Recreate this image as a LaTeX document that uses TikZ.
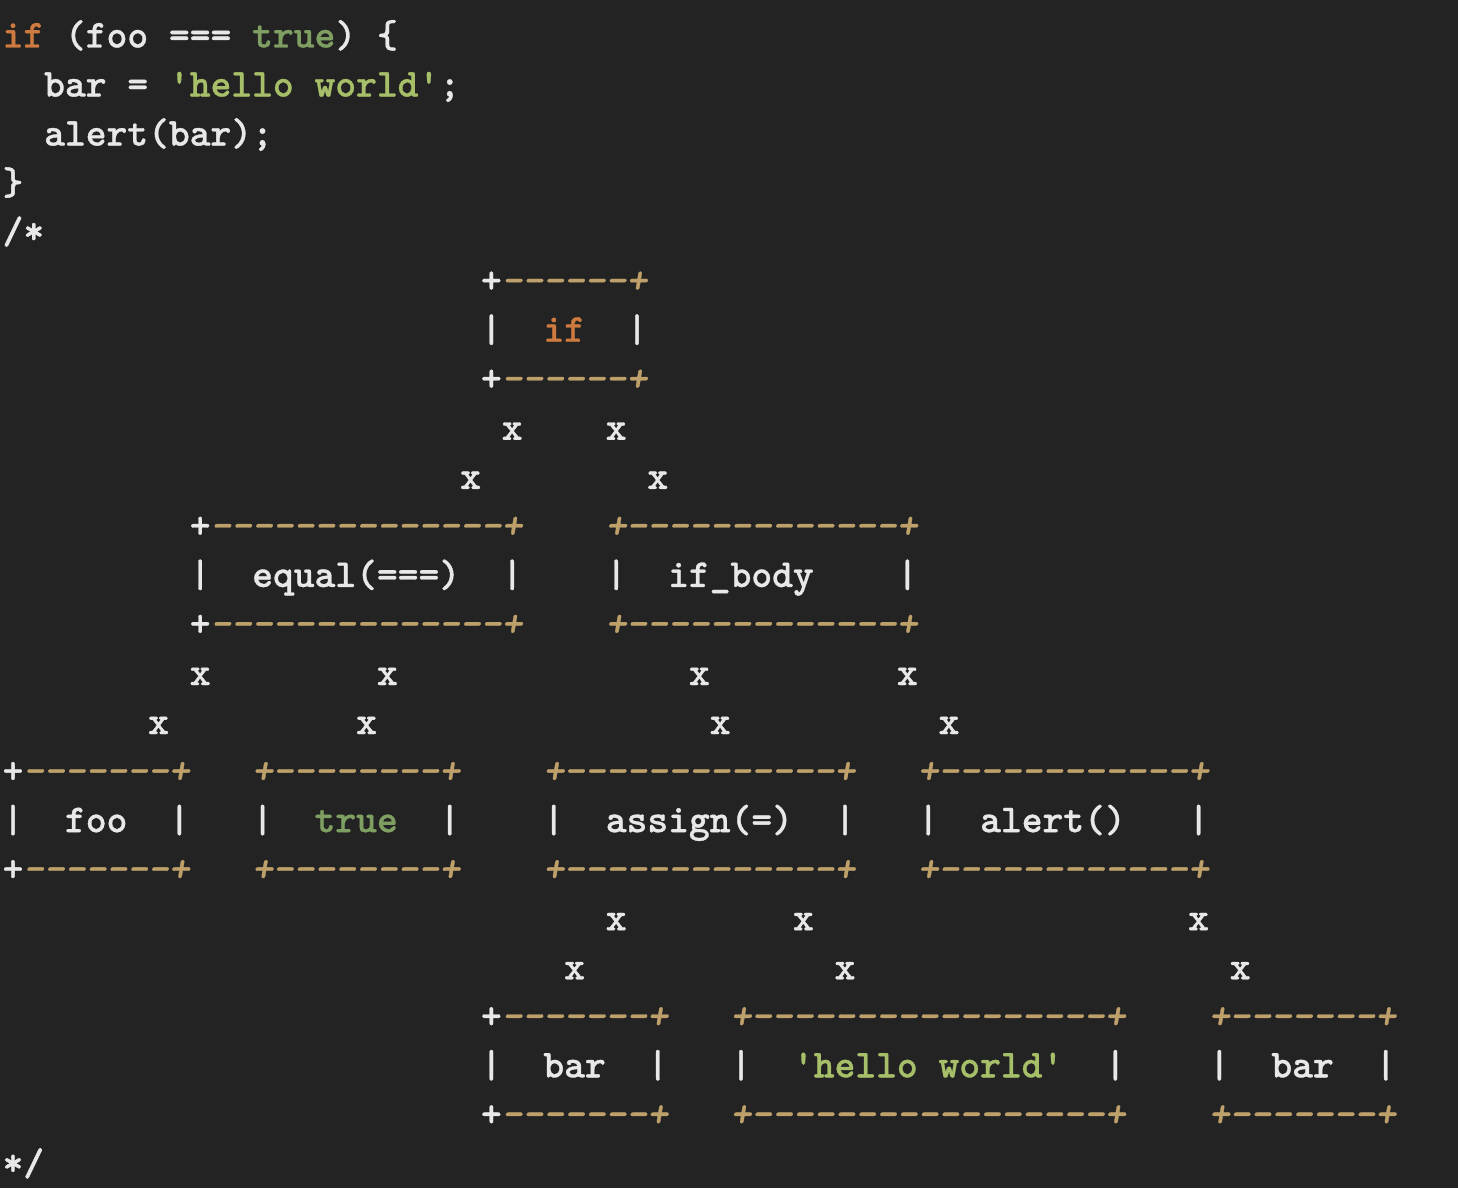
\documentclass[tikz,border=0pt]{standalone}
\usepackage{fontspec}
\newfontfamily\codefont{lmmonolt10-bold}[Extension=.otf,ItalicFont=lmmonolt10-boldoblique,BoldFont=lmmonolt10-bold,BoldItalicFont=lmmonolt10-boldoblique,Ligatures=TeXOff,FakeBold=0.8]
\newcommand\codesize{\codefont\fontsize{39.6pt}{49pt}\selectfont}
\definecolor{bgc}{HTML}{232323}
\definecolor{codewhite}{HTML}{E8E8E8}
\definecolor{codetan}{HTML}{BDA06A}
\definecolor{codeorange}{HTML}{CF7B3F}
\definecolor{codegreen}{HTML}{7F9F62}
\definecolor{codelime}{HTML}{A6BF68}
\begin{document}
\begin{tikzpicture}[x=20.8pt,y=-49.04pt,
  tok/.style={inner sep=0pt,outer sep=0pt,anchor=base west,font=\codesize},
  w/.style={tok,text=codewhite},
  tn/.style={tok,text=codetan,font=\codesize\itshape},
  kw/.style={tok,text=codeorange},
  grn/.style={tok,text=codegreen},
  lime/.style={tok,text=codelime}]
\fill[bgc] (0pt,0pt) rectangle (1458pt,-1188pt);
\useasboundingbox (0pt,0pt) rectangle (1458pt,-1188pt);
\begin{scope}[shift={(2.6pt,-47.5pt)}]
% code
\node[kw] (c0if) at (0,0) {if};
\node[w] (c0a) at (3,0) {(foo ===};
\node[grn] (c0true) at (12,0) {true};
\node[w] (c0b) at (16,0) {) \{};
\node[w] (c1a) at (2,1) {bar =};
\node[lime] (c1str) at (8,1) {'hello world'};
\node[w] (c1b) at (21,1) {;};
\node[w] (c2) at (2,2) {alert(bar);};
\node[w] (c3) at (0,3) {\}};
\node[w] (c4) at (0,4) {/*};
% if box
\node[w] (r5p) at (23,5) {+};
\node[tn] (r5t) at (24,5) {------+};
\node[w] (r6l) at (23,6) {|};
\node[kw] (ifnode) at (26,6) {if};
\node[w] (r6r) at (30,6) {|};
\node[w] (r7p) at (23,7) {+};
\node[tn] (r7t) at (24,7) {------+};
\node[w] (r8a) at (24,8) {x};
\node[w] (r8b) at (29,8) {x};
\node[w] (r9a) at (22,9) {x};
\node[w] (r9b) at (31,9) {x};
% equal / if_body
\node[w] (r10p) at (9,10) {+};
\node[tn] (r10t) at (10,10) {--------------+};
\node[tn] (r10u) at (29,10) {+-------------+};
\node[w] (r11a) at (9,11) {|};
\node[w] (equal) at (12,11) {equal(===)};
\node[w] (r11b) at (24,11) {|};
\node[w] (r11c) at (29,11) {|};
\node[w] (ifbody) at (32,11) {if\_body};
\node[w] (r11d) at (43,11) {|};
\node[w] (r12p) at (9,12) {+};
\node[tn] (r12t) at (10,12) {--------------+};
\node[tn] (r12u) at (29,12) {+-------------+};
\node[w] (r13a) at (9,13) {x};
\node[w] (r13b) at (18,13) {x};
\node[w] (r13c) at (33,13) {x};
\node[w] (r13d) at (43,13) {x};
\node[w] (r14a) at (7,14) {x};
\node[w] (r14b) at (17,14) {x};
\node[w] (r14c) at (34,14) {x};
\node[w] (r14d) at (45,14) {x};
% foo / true / assign / alert
\node[w] (r15p) at (0,15) {+};
\node[tn] (r15t) at (1,15) {-------+};
\node[tn] (r15u) at (12,15) {+--------+};
\node[tn] (r15v) at (26,15) {+-------------+};
\node[tn] (r15w) at (44,15) {+------------+};
\node[w] (r16a) at (0,16) {|};
\node[w] (foo) at (3,16) {foo};
\node[w] (r16b) at (8,16) {|};
\node[w] (r16c) at (12,16) {|};
\node[grn] (truenode) at (15,16) {true};
\node[w] (r16d) at (21,16) {|};
\node[w] (r16e) at (26,16) {|};
\node[w] (assign) at (29,16) {assign(=)};
\node[w] (r16f) at (40,16) {|};
\node[w] (r16g) at (44,16) {|};
\node[w] (alert) at (47,16) {alert()};
\node[w] (r16h) at (57,16) {|};
\node[w] (r17p) at (0,17) {+};
\node[tn] (r17t) at (1,17) {-------+};
\node[tn] (r17u) at (12,17) {+--------+};
\node[tn] (r17v) at (26,17) {+-------------+};
\node[tn] (r17w) at (44,17) {+------------+};
\node[w] (r18a) at (29,18) {x};
\node[w] (r18b) at (38,18) {x};
\node[w] (r18c) at (57,18) {x};
\node[w] (r19a) at (27,19) {x};
\node[w] (r19b) at (40,19) {x};
\node[w] (r19c) at (59,19) {x};
% bar / hello world / bar
\node[w] (r20p) at (23,20) {+};
\node[tn] (r20t) at (24,20) {-------+};
\node[tn] (r20u) at (35,20) {+-----------------+};
\node[tn] (r20v) at (58,20) {+-------+};
\node[w] (r21a) at (23,21) {|};
\node[w] (bar1) at (26,21) {bar};
\node[w] (r21b) at (31,21) {|};
\node[w] (r21c) at (35,21) {|};
\node[lime] (hello) at (38,21) {'hello world'};
\node[w] (r21d) at (53,21) {|};
\node[w] (r21e) at (58,21) {|};
\node[w] (bar2) at (61,21) {bar};
\node[w] (r21f) at (66,21) {|};
\node[w] (r22p) at (23,22) {+};
\node[tn] (r22t) at (24,22) {-------+};
\node[tn] (r22u) at (35,22) {+-----------------+};
\node[tn] (r22v) at (58,22) {+-------+};
\node[w] (c23) at (0,23) {*/};
\end{scope}
\end{tikzpicture}
\end{document}
